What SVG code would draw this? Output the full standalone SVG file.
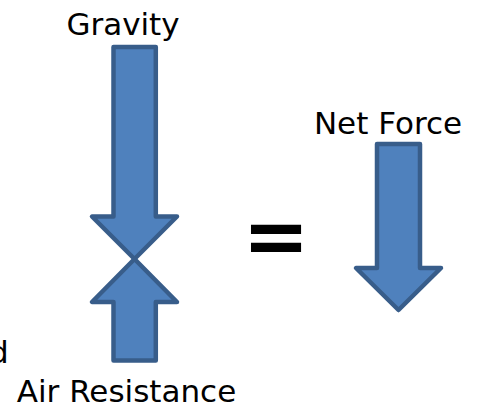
<svg xmlns="http://www.w3.org/2000/svg" width="482" height="406" viewBox="0 0 482 406">
<style>
.arrow{fill:#4F81BD;stroke:#385D8A;stroke-width:4.5;stroke-linejoin:round}
.lbl{font-family:"DejaVu Sans",Verdana,sans-serif;font-size:31px;fill:#000}
</style>
<rect width="482" height="406" fill="#fff"/>
<g id="gravity">
<polygon class="arrow" points="113.5,47 155.8,47 155.8,216.5 177,216.5 134.5,259 92,216.5 113.5,216.5"/>
<text class="lbl" x="123" y="35" text-anchor="middle">Gravity</text>
</g>
<g id="air-resistance">
<polygon class="arrow" points="113.5,360.5 155.8,360.5 155.8,302 177,302 134.5,259 92,302 113.5,302"/>
<text class="lbl" x="126.5" y="402" text-anchor="middle">Air Resistance</text>
</g>
<g id="equals">
<text x="276" y="264" text-anchor="middle" style="font-family:'DejaVu Sans',sans-serif;font-weight:bold;font-size:80px">=</text>
</g>
<g id="net-force">
<polygon class="arrow" points="377,144 420,144 420,268 441,268 398.5,310 356,268 377,268"/>
<text class="lbl" x="388" y="134" text-anchor="middle">Net Force</text>
</g>
<g id="cut-label">
<text class="lbl" x="-11" y="363">d</text>
</g>
<g id="connectors"></g>
</svg>
